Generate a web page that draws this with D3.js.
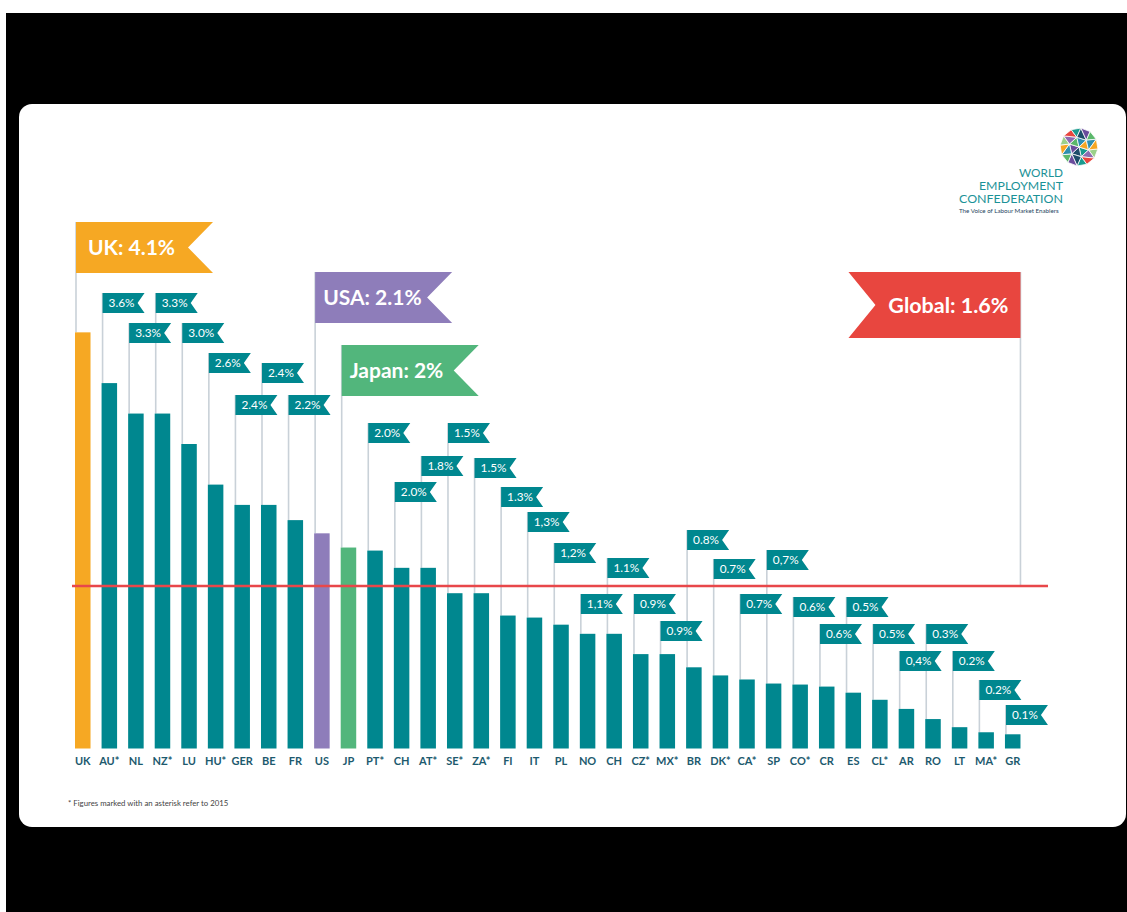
<!DOCTYPE html>
<html>
<head>
<meta charset="utf-8">
<script src="https://cdn.jsdelivr.net/npm/d3@7"></script>
<style>
  body { margin: 0; background: #fff; }
  svg { display: block; }
</style>
</head>
<body>
<script>
// countries in chart order
var countries = ["UK","AU*","NL","NZ*","LU","HU*","GER","BE","FR","US","JP","PT*","CH","AT*","SE*","ZA*","FI","IT","PL","NO","CH","CZ*","MX*","BR","DK*","CA*","SP","CO*","CR","ES","CL*","AR","RO","LT","MA*","GR"];
// bar heights (%)
var values = [4.1,3.6,3.3,3.3,3.0,2.6,2.4,2.4,2.25,2.12,1.98,1.95,1.78,1.78,1.53,1.53,1.31,1.29,1.22,1.13,1.13,0.93,0.93,0.80,0.72,0.68,0.64,0.63,0.61,0.55,0.48,0.39,0.29,0.21,0.16,0.14];
// text printed on the flags
var flagLabels = ["4.1%","3.6%","3.3%","3.3%","3.0%","2.6%","2.4%","2.4%","2.2%","2.1%","2%","2.0%","2.0%","1.8%","1.5%","1.5%","1.3%","1,3%","1,2%","1,1%","1.1%","0.9%","0.9%","0.8%","0.7%","0.7%","0,7%","0.6%","0.6%","0.5%","0.5%","0,4%","0.3%","0.2%","0.2%","0.1%"];
var globalValue = 1.6;
var globalLabel = "Global: 1.6%";
var highlights = { 0: "UK: 4.1%", 9: "USA: 2.1%", 10: "Japan: 2%" };

// layout only: top edge of each flag (px), staggered so they don't collide
var flagTop = [222,293,323,293,323,353,395,363,395,272,345,423,482,456,423,458,487,512,543,594,558,594,621,530,559,594,550,597,624,597,624,651,624,651,680,705];

var W = 1127, H = 912;
var teal = "#00878f", pole = "#c9d1d8", labelCol = "#1d5a6e";
var hiColor = { 0: "#f6a823", 9: "#8e7dba", 10: "#52b67c" };

var svg = d3.select("body").append("svg")
  .attr("width", W).attr("height", H);

// frame: black backdrop + white rounded card
svg.append("rect").attr("x", 6).attr("y", 13).attr("width", W - 6).attr("height", H - 13).attr("fill", "#000");
svg.append("rect").attr("x", 19).attr("y", 104).attr("width", 1107).attr("height", 723)
  .attr("rx", 13).attr("fill", "#fff");

var x = d3.scaleBand()
  .domain(d3.range(countries.length))
  .range([75, 75 + 26.57 * (countries.length - 0.416)])
  .paddingInner(0.416)
  .paddingOuter(0);

var y = d3.scaleLinear().domain([0, 4]).range([748.5, 342.5]);

var bw = x.bandwidth();

// poles
svg.selectAll("line.pole")
  .data(values)
  .enter()
  .append("line")
  .attr("class", "pole")
  .attr("x1", function(d, i) { return x(i) + 1; })
  .attr("x2", function(d, i) { return x(i) + 1; })
  .attr("y1", function(d, i) { return flagTop[i]; })
  .attr("y2", function(d) { return y(d); })
  .attr("stroke", pole)
  .attr("stroke-width", 1.6);

// global pole + line
var gx = x(countries.length - 1) + bw;
svg.append("line")
  .attr("x1", gx).attr("x2", gx)
  .attr("y1", 272).attr("y2", y(globalValue))
  .attr("stroke", pole).attr("stroke-width", 1.6);

// bars
svg.selectAll("rect.bar")
  .data(values)
  .enter()
  .append("rect")
  .attr("class", "bar")
  .attr("x", function(d, i) { return x(i); })
  .attr("y", function(d) { return y(d); })
  .attr("width", bw)
  .attr("height", function(d) { return y(0) - y(d); })
  .attr("fill", function(d, i) { return hiColor[i] || teal; });

svg.append("line")
  .attr("x1", 72).attr("x2", 1048)
  .attr("y1", y(globalValue)).attr("y2", y(globalValue))
  .attr("stroke", "#e8474a").attr("stroke-width", 2.5);

// small flags
function flagPath(w, h, notch) {
  return "M0,0H" + w + "L" + (w - notch) + "," + (h / 2) + "L" + w + "," + h + "H0Z";
}

var small = svg.selectAll("g.flag")
  .data(values.map(function(d, i) { return i; }).filter(function(i) { return !highlights[i]; }))
  .enter()
  .append("g")
  .attr("class", "flag")
  .attr("transform", function(i) { return "translate(" + (x(i) + 1) + "," + flagTop[i] + ")"; });

small.append("path")
  .attr("d", flagPath(42, 20, 7))
  .attr("fill", teal);

small.append("text")
  .attr("x", 6)
  .attr("y", 14.3)
  .attr("font-family", "Lato, 'Open Sans', sans-serif")
  .attr("font-size", "11.8px")
  .attr("fill", "#fff")
  .text(function(i) { return flagLabels[i]; });

// big flags
var big = svg.selectAll("g.big")
  .data(Object.keys(highlights).map(Number))
  .enter()
  .append("g")
  .attr("class", "big")
  .attr("transform", function(i) { return "translate(" + (x(i) + 1) + "," + flagTop[i] + ")"; });

big.append("path")
  .attr("d", flagPath(137, 51, 25))
  .attr("fill", function(i) { return hiColor[i]; });

big.append("text")
  .attr("x", function(i) { return i === 0 ? 12 : 8; })
  .attr("y", 33)
  .attr("font-family", "Lato, 'Open Sans', sans-serif")
  .attr("font-weight", "bold")
  .attr("font-size", "21px")
  .attr("fill", "#fff")
  .text(function(i) { return highlights[i]; });

// global flag (notch on the left)
var g = svg.append("g").attr("transform", "translate(" + (gx - 172) + ",272)");
g.append("path")
  .attr("d", "M0,0H172V66H0L27,33Z")
  .attr("fill", "#e8463f");
g.append("text")
  .attr("x", 160).attr("y", 41)
  .attr("text-anchor", "end")
  .attr("font-family", "Lato, 'Open Sans', sans-serif")
  .attr("font-weight", "bold")
  .attr("font-size", "21.5px")
  .attr("fill", "#fff")
  .text(globalLabel);

// category labels
svg.selectAll("text.cat")
  .data(countries)
  .enter()
  .append("text")
  .attr("class", "cat")
  .attr("x", function(d, i) { return x(i) + bw / 2; })
  .attr("y", 765)
  .attr("text-anchor", "middle")
  .attr("font-family", "Lato, 'Open Sans', sans-serif")
  .attr("font-weight", "bold")
  .attr("font-size", "11px")
  .attr("fill", labelCol)
  .text(function(d) { return d; });

svg.append("text")
  .attr("x", 68).attr("y", 806)
  .attr("font-family", "Lato, 'Open Sans', sans-serif")
  .attr("font-size", "7.8px")
  .attr("fill", "#444")
  .text("* Figures marked with an asterisk refer to 2015");

// logo
var logo = svg.append("g");
var cx = 1079, cy = 147, r1 = 10, r2 = 19;
var pal = ["#1a9a8e","#8c6bb1","#f5a623","#5bb86b","#1d4e6b","#e8463f","#9bd08a","#2e8fb0","#6a4c9c"];
var ring1 = d3.range(6).map(function(k) { var a = k * Math.PI / 3 + 0.3; return [cx + r1 * Math.cos(a), cy + r1 * Math.sin(a)]; });
var ring2 = d3.range(12).map(function(k) { var a = k * Math.PI / 6 + 0.1; return [cx + r2 * Math.cos(a), cy + r2 * Math.sin(a)]; });
var tris = [];
ring1.forEach(function(p, k) { tris.push([[cx, cy], p, ring1[(k + 1) % 6]]); });
ring1.forEach(function(p, k) {
  var q = ring1[(k + 1) % 6];
  var a = ring2[2 * k], b = ring2[2 * k + 1], c = ring2[(2 * k + 2) % 12];
  tris.push([p, a, b]); tris.push([p, b, q]); tris.push([q, b, c]);
});
logo.selectAll("path")
  .data(tris)
  .enter()
  .append("path")
  .attr("d", function(t) { return "M" + t.join("L") + "Z"; })
  .attr("fill", function(t, k) { return pal[(k * 4) % pal.length]; })
  .attr("stroke", "#fff").attr("stroke-width", 0.8);

// logo wordmark: smaller font stretched to the original widths so lines don't collide
[["WORLD", 177, 44], ["EMPLOYMENT", 190, 84], ["CONFEDERATION", 203, 104]].forEach(function(l) {
  logo.append("text")
    .attr("x", 1063 - l[2]).attr("y", l[1])
    .attr("font-family", "Lato, 'Open Sans', sans-serif")
    .attr("font-size", "10.6px")
    .attr("textLength", l[2])
    .attr("lengthAdjust", "spacingAndGlyphs")
    .attr("fill", "#1b9297")
    .text(l[0]);
});
logo.append("text")
  .attr("x", 959).attr("y", 212.5)
  .attr("font-family", "Lato, 'Open Sans', sans-serif")
  .attr("font-size", "6.2px")
  .attr("fill", "#1d3f5c")
  .text("The Voice of Labour Market Enablers");
</script>
</body>
</html>
